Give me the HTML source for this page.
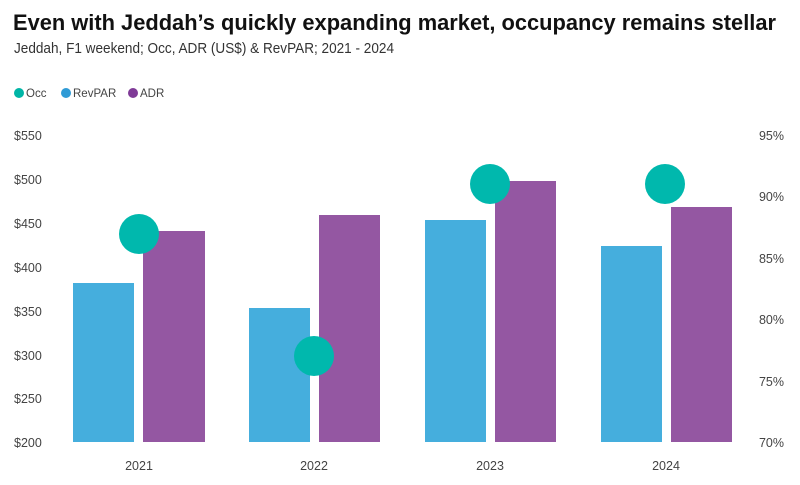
<!DOCTYPE html>
<html><head><meta charset="utf-8"><style>
html,body{margin:0;padding:0;background:#fff;}
svg{display:block;font-family:"Liberation Sans",sans-serif;}
</style></head><body>
<svg width="800" height="485" viewBox="0 0 800 485" xmlns="http://www.w3.org/2000/svg">
<text x="13" y="30" font-size="22" font-weight="bold" fill="#111" textLength="763" lengthAdjust="spacingAndGlyphs">Even with Jeddah’s quickly expanding market, occupancy remains stellar</text>
<text x="14" y="53" font-size="14.5" fill="#333" textLength="380" lengthAdjust="spacingAndGlyphs">Jeddah, F1 weekend; Occ, ADR (US$) &amp; RevPAR; 2021 - 2024</text>
<g font-size="11.5" fill="#444">
<circle cx="19" cy="93" r="5" fill="#00b5a6"/><text x="26" y="97">Occ</text>
<circle cx="66" cy="93" r="5" fill="#2f9bd6"/><text x="73" y="97">RevPAR</text>
<circle cx="133" cy="93" r="5" fill="#7f3a97"/><text x="140" y="97">ADR</text>
</g>
<g font-size="12.5" fill="#444">
<text x="14" y="140">$550</text><text x="14" y="184">$500</text><text x="14" y="228">$450</text><text x="14" y="272">$400</text><text x="14" y="316">$350</text><text x="14" y="360">$300</text><text x="14" y="403">$250</text><text x="14" y="447">$200</text>
<text x="784" y="140" text-anchor="end">95%</text><text x="784" y="201" text-anchor="end">90%</text><text x="784" y="263" text-anchor="end">85%</text><text x="784" y="324" text-anchor="end">80%</text><text x="784" y="386" text-anchor="end">75%</text><text x="784" y="447" text-anchor="end">70%</text>
<text x="139" y="470" text-anchor="middle">2021</text><text x="314" y="470" text-anchor="middle">2022</text><text x="490" y="470" text-anchor="middle">2023</text><text x="666" y="470" text-anchor="middle">2024</text>
</g>
<g fill="#45aedd">
<rect x="73" y="283" width="61" height="159"/>
<rect x="249" y="308" width="61" height="134"/>
<rect x="425" y="220" width="61" height="222"/>
<rect x="601" y="246" width="61" height="196"/>
</g>
<g fill="#9457a2">
<rect x="143" y="231" width="62" height="211"/>
<rect x="319" y="215" width="61" height="227"/>
<rect x="495" y="181" width="61" height="261"/>
<rect x="671" y="207" width="61" height="235"/>
</g>
<g fill="#00b8ad">
<circle cx="139" cy="234" r="20"/>
<circle cx="314" cy="356" r="20"/>
<circle cx="490" cy="184" r="20"/>
<circle cx="665" cy="184" r="20"/>
</g>
</svg>
</body></html>
